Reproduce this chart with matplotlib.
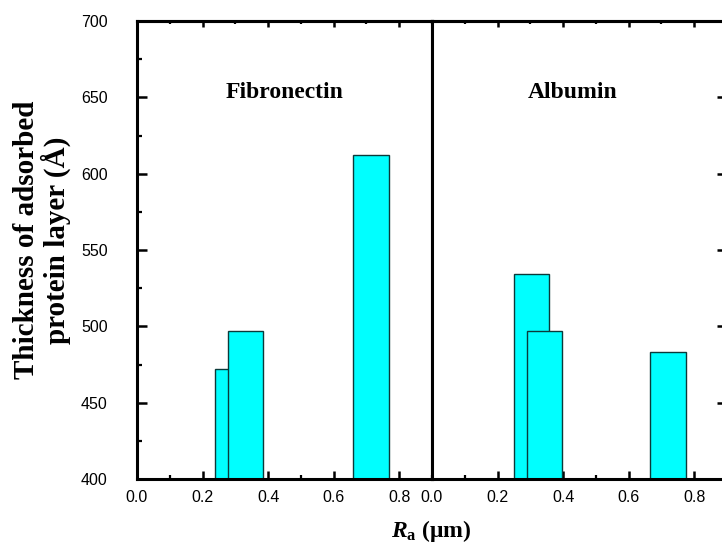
import matplotlib
matplotlib.use("Agg")
import matplotlib.pyplot as plt
from matplotlib.ticker import MultipleLocator

plt.rcParams["mathtext.fontset"] = "custom"
plt.rcParams["mathtext.rm"] = "Liberation Serif:bold"
plt.rcParams["mathtext.it"] = "Liberation Serif:italic:bold"
plt.rcParams["mathtext.bf"] = "Liberation Serif:bold"

# Surface roughness (Ra, µm) and adsorbed layer thickness (Å)
fn_ra = [0.290, 0.332, 0.714]
fn_thickness = [472, 497, 612]
alb_ra = [0.304, 0.343, 0.720]
alb_thickness = [534, 497, 483]
panel_titles = ["Fibronectin", "Albumin"]
x_ticks = [0.0, 0.2, 0.4, 0.6, 0.8]
x_ticklabels = ["0.0", "0.2", "0.4", "0.6", "0.8"]
y_ticks = [400, 450, 500, 550, 600, 650, 700]

bar_width = 0.107
W, H = 722, 547
fig = plt.figure(figsize=(W / 100, H / 100), dpi=100)

y_top, y_bot = 21, 479
ax_l = fig.add_axes([137 / W, 1 - y_bot / H, (432 - 137) / W, (y_bot - y_top) / H])
ax_r = fig.add_axes([432 / W, 1 - y_bot / H, (727 - 432) / W, (y_bot - y_top) / H])

tick_font = dict(family="Liberation Sans", size=11.5)

for ax, ra, th, title in [(ax_l, fn_ra, fn_thickness, panel_titles[0]),
                          (ax_r, alb_ra, alb_thickness, panel_titles[1])]:
    ax.bar(ra, [t - 400 for t in th], bottom=400, width=bar_width,
           color="#00ffff", edgecolor="#0b3a3a", linewidth=1.0, zorder=2)
    ax.set_xlim(0, 0.9)
    ax.set_ylim(400, 700)
    for s in ax.spines.values():
        s.set_linewidth(2.2)
    ax.set_xticks(x_ticks)
    ax.set_xticklabels(x_ticklabels, **tick_font)
    ax.xaxis.set_minor_locator(MultipleLocator(0.1))
    ax.tick_params(axis="x", which="major", direction="in", length=5.5,
                   width=1.8, pad=8)
    ax.tick_params(axis="x", which="minor", direction="in", length=2.8,
                   width=1.6)
    # top edge ticks (shorter)
    sec = ax.secondary_xaxis("top")
    sec.set_xticks(x_ticks)
    sec.xaxis.set_minor_locator(MultipleLocator(0.1))
    sec.tick_params(axis="x", which="major", direction="in", length=4,
                    width=1.8, labeltop=False)
    sec.tick_params(axis="x", which="minor", direction="in", length=2.2,
                    width=1.6)
    sec.spines["top"].set_linewidth(2.2)
    ax.text(0.45 if ax is ax_l else 0.43, 653, title, ha="center", va="center",
            family="Liberation Serif", fontweight="bold", fontsize=17)

ax_l.set_yticks(y_ticks)
ax_l.set_yticklabels([str(v) for v in y_ticks], **tick_font)
ax_l.yaxis.set_minor_locator(MultipleLocator(25))
ax_l.tick_params(axis="y", which="major", direction="in", length=7.2,
                 width=1.8, pad=21)
ax_l.tick_params(axis="y", which="minor", direction="in", length=3.6,
                 width=1.6)

ax_r.set_yticks(y_ticks)
ax_r.yaxis.set_minor_locator(MultipleLocator(25))
ax_r.tick_params(axis="y", which="both", left=False, right=True,
                 labelleft=False, direction="in")
ax_r.tick_params(axis="y", which="major", length=7.2, width=1.8)
ax_r.tick_params(axis="y", which="minor", length=3.6, width=1.6)

fig.text(42 / W, 1 - 240 / H, "Thickness of adsorbed\nprotein layer (Å)",
         rotation=90, ha="center", va="center", family="Liberation Serif",
         fontweight="bold", fontsize=21, linespacing=1.05)
fig.text(431 / W, 1 - 531 / H, r"$R_\mathrm{a}$ (μm)", ha="center", va="center",
         family="Liberation Serif", fontweight="bold", fontsize=17)

fig.savefig("out.png", dpi=100)
